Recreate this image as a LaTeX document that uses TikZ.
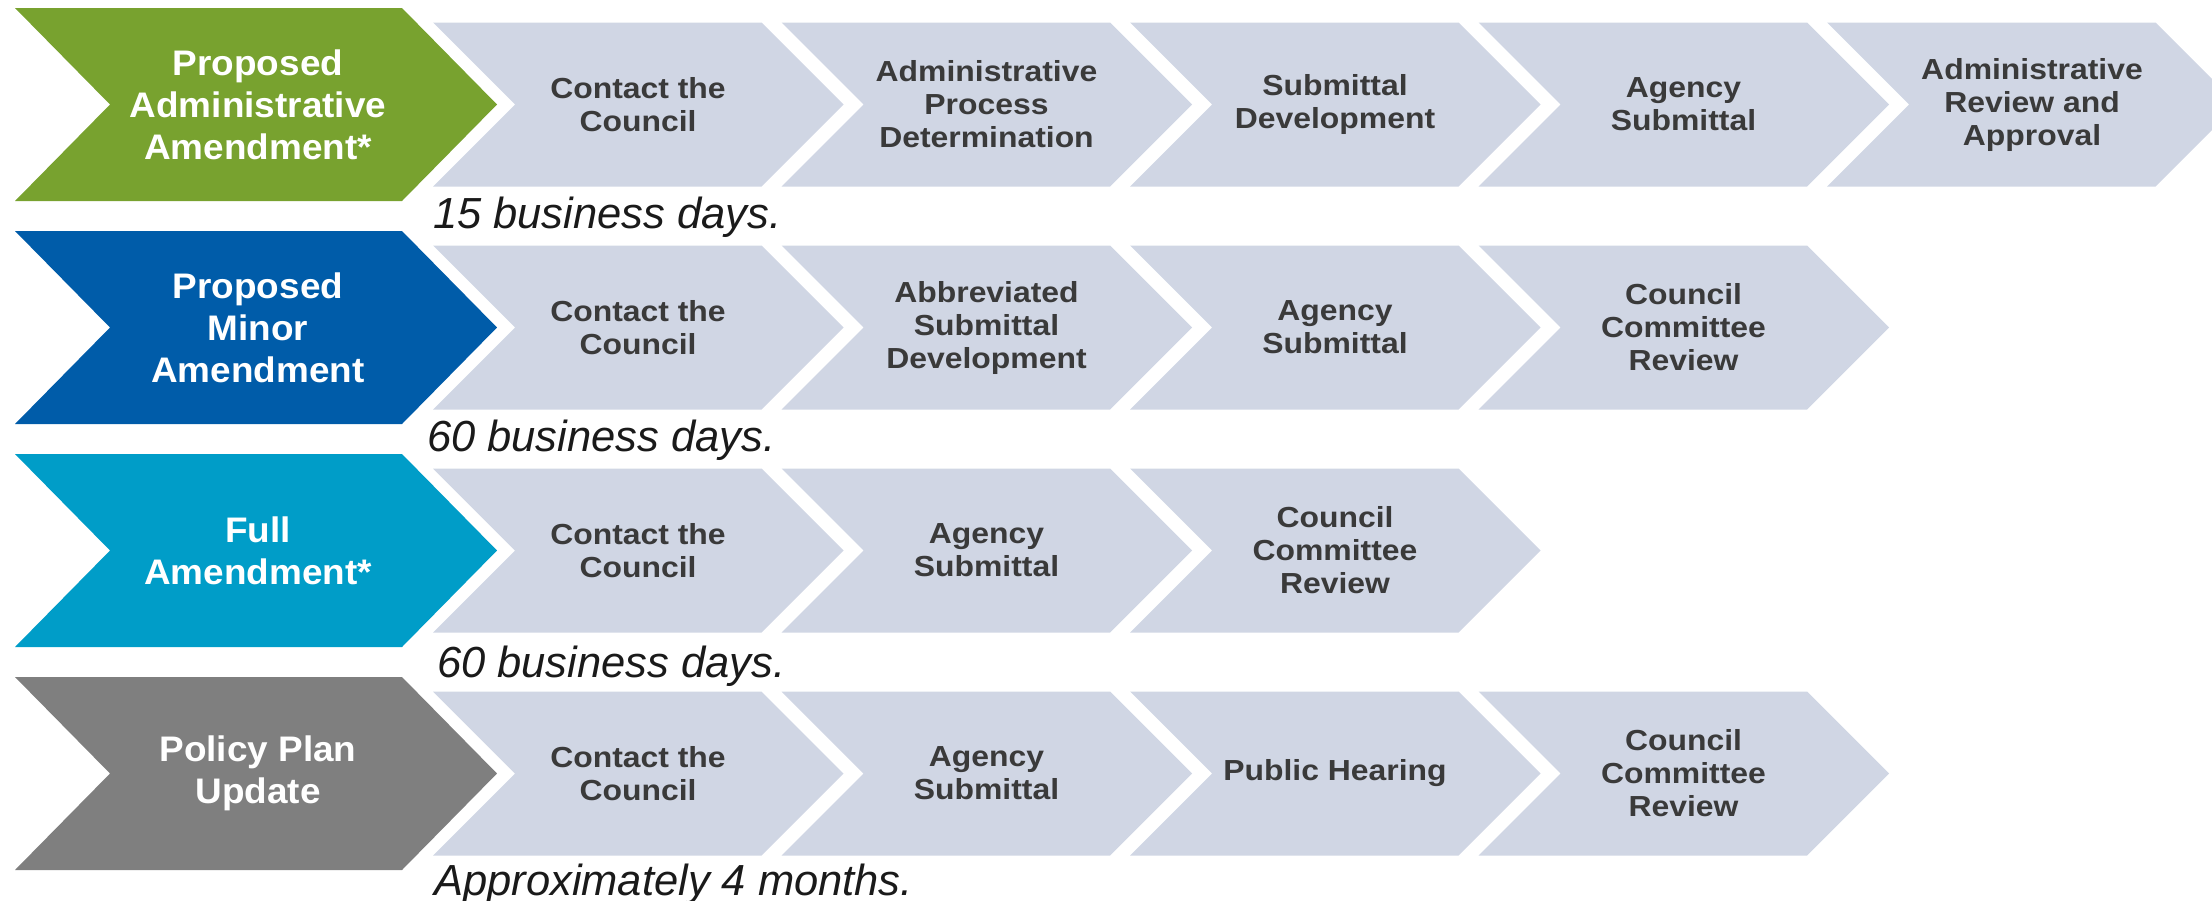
\documentclass[tikz,border=0pt]{standalone}
\usepackage{fontspec}
\setmainfont{Liberation Sans}
\newfontfamily\chevfont{Liberation Sans}[FakeStretch=1.1]
\newfontfamily\colfont{Liberation Sans}[FakeStretch=1.04]
\definecolor{cgreen}{HTML}{78A22F}
\definecolor{cblue}{HTML}{005CA9}
\definecolor{ccyan}{HTML}{009DC8}
\definecolor{cgrey}{HTML}{7F7F7F}
\definecolor{chevgray}{HTML}{D0D6E4}
\definecolor{textgray}{HTML}{3A3A3A}
\definecolor{labblack}{HTML}{1A1A1A}
\newcommand\GrayChev[4]{%
  \pgfmathsetmacro\chevL{433+348.5*#3}%
  \fill[chevgray] (\chevL,#2-82) -- ++(328.5,0) -- ++(82,82) -- ++(-82,82) -- ++(-328.5,0) -- ++(82,-82) -- cycle;
  \node[graytext] (#1) at (\chevL+205,#2) {#4};
}
\newcommand\ColChev[4]{%
  \fill[#3] (15,#2-96.5) -- (402,#2-96.5) -- (497,#2) -- (402,#2+96.5) -- (15,#2+96.5) -- (110,#2) -- cycle;
  \node[coltext] (#1) at (258,#2) {#4};
}
\begin{document}
\begin{tikzpicture}[x=1pt,y=-1pt,
  graytext/.style={font=\chevfont\bfseries\fontsize{29}{33}\selectfont, text=textgray, align=center, inner sep=0pt},
  coltext/.style={font=\colfont\bfseries\fontsize{35.5}{42}\selectfont, text=white, align=center, inner sep=0pt},
  labtext/.style={font=\itshape\fontsize{43.5}{50}\selectfont, text=labblack, anchor=base west, inner sep=0pt}]
\useasboundingbox (0,0) rectangle (2212,900);
\clip (0,0) rectangle (2212,900);
% Row 1
\ColChev{c1}{104.5}{cgreen}{Proposed\\Administrative\\Amendment*}
\GrayChev{a1}{104.5}{0}{Contact the\\Council}
\GrayChev{a2}{104.5}{1}{Administrative\\Process\\Determination}
\GrayChev{a3}{104.5}{2}{Submittal\\Development}
\GrayChev{a4}{104.5}{3}{Agency\\Submittal}
\GrayChev{a5}{104.5}{4}{Administrative\\Review and\\Approval}
\node[labtext] (l1) at (433,228) {15 business days.};
% Row 2
\ColChev{c2}{327.5}{cblue}{Proposed\\Minor\\Amendment}
\GrayChev{b1}{327.5}{0}{Contact the\\Council}
\GrayChev{b2}{327.5}{1}{Abbreviated\\Submittal\\Development}
\GrayChev{b3}{327.5}{2}{Agency\\Submittal}
\GrayChev{b4}{327.5}{3}{Council\\Committee\\Review}
\node[labtext] (l2) at (427,451) {60 business days.};
% Row 3
\ColChev{c3}{550.5}{ccyan}{Full\\Amendment*}
\GrayChev{d1}{550.5}{0}{Contact the\\Council}
\GrayChev{d2}{550.5}{1}{Agency\\Submittal}
\GrayChev{d3}{550.5}{2}{Council\\Committee\\Review}
\node[labtext] (l3) at (437,677) {60 business days.};
% Row 4
\ColChev{c4}{773.5}{cgrey}{Policy Plan\\Update}
\GrayChev{e1}{773.5}{0}{Contact the\\Council}
\GrayChev{e2}{773.5}{1}{Agency\\Submittal}
\GrayChev{e3}{773.5}{2}{Public Hearing}
\GrayChev{e4}{773.5}{3}{Council\\Committee\\Review}
\node[labtext] (l4) at (434,895) {Approximately 4 months.};
\end{tikzpicture}
\end{document}
